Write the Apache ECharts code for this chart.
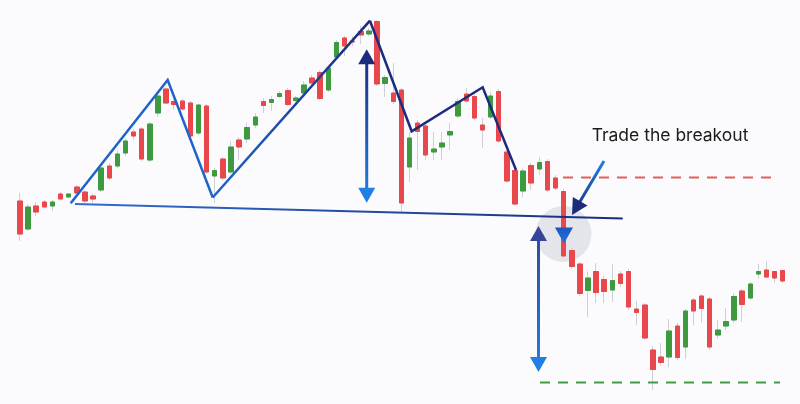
<!DOCTYPE html>
<html>
<head>
<meta charset="utf-8">
<script src="https://cdn.jsdelivr.net/npm/echarts@6/dist/echarts.min.js"></script>
<style>html,body{margin:0;padding:0;background:#fbfbfd;}#c{width:800px;height:404px;}</style>
</head>
<body>
<div id="c"></div>
<script>
// ---- Candle data (price units) ----
const opens  = [203,175,198,202,198,210,207,217,212,208,214,238,238,251,272,275,244,291,315,302.5,303,301,271,298,228,245,232,264,265,279,302.5,301.5,307.5,313.5,303.5,311,326,331.5,314,347,366,363,372.5,370,382.5,320.5,311,314,237,281,278,252,257,269,288,310,307.5,279,287,312.5,252,233.5,213,238.5,235,242.5,226,212.5,153.5,140,113.5,132.5,124.5,114,130,132.5,95,99,54,47,47,78,57,104,108,105,69,78,84,113,106,130,134,132.5,133.5];
const closes = [170,197,192,197,202,205,210,211,203,205,236,226,250,263,268,245,280,308,301,299.5,295,268,299,232,233.5,226,257,257,276.5,287,298.5,304.5,310.5,299.5,306,319,321,305.5,336,361.5,358,362,369,373,320,326.5,302.5,201,266,272.5,249,255,261,272.5,302.5,303,286,274,308,263,223,200,233,221,241.5,214,216,148,137.5,110.5,126,111.5,112.5,123.5,120.5,97,91.5,66,34.5,41.5,73,46.5,93,93,95.5,57,74,82.5,107.5,99.5,120,132.5,127,126,123];
const lows   = [163,173,188,195,193,203,206,210,201,201,212,224,236,248,264,243,242,287,300,294,293,266,269,230,201,224,230,244,261,276,291,293,306,298,302,309,316,304,312,345,348,358,360,368,318,307,300,192,222,234,244,244,244,254,286,301,284,256,285,261,221,198,207,214,229,212,214,146,135,108,87,101,101,102,117,94,79,64,14,38,37,44,45,79,81,54,65,74,81,82,104,125,126,121,121];
const highs  = [211,200,202,204,204,212,211,219,214,210,238,241,254,266,275,277,282,310,317,305,305,303,300,300,236,247,263,267,281,291,306,308,313,316,308,323,329,334,338,364,368,368,378,376,384,329,341,316,272,284,280,272,272,281,306,316,310,286,312,315,254,236,236,241,247,245,229,215,156,142,132,141,128,140,133,135,103,101,58,61,85,81,95,106,110,107,84,96,111,115,122,140,143,133,134];
const categories = opens.map((_, i) => 'D' + (i + 1));

// ---- Annotation anchors (x: candle index, y: price) ----
const leftShoulder = [[6.25, 200.7], [18.2, 324], [23.75, 206.5]];
const headRise     = [[23.75, 206.5], [43.13, 383.3]];
const rightSide    = [[43.13, 383.3], [48.27, 272.7], [57.02, 316.7], [61.13, 234]];
const neckline     = [[6.78, 200], [74.28, 185.5]];
const targetArrow1 = [42.73, 354.7, 201.3];   // x, top tip, bottom tip
const targetArrow2 = [63.9, 178, 32];
const breakCircle  = [66.98, 170];
const breakTriangle = [67.04, 160.5];
const breakoutArrow = [[71.97, 243], [68.03, 189]];
const resistanceLine = [[66.92, 226.5], [92.8, 226.5]];
const supportLine    = [[64.09, 21.5], [93.67, 21.5]];
const labelAnchor    = [70.45, 268.5];
const labelText      = 'Trade the breakout';

const UP = '#3d9a3f', DOWN = '#e8474b', WICK = '#cfcfd6';
const NAVY = '#1c2b7c', BLUE = '#2063c9', SKY = '#1f7fe3';

const chart = echarts.init(document.getElementById('c'));
const wickData = opens.map((o, i) => [o, closes[i], lows[i], highs[i]]);
const bodyData = opens.map((o, i) => [o, closes[i], Math.min(o, closes[i]), Math.max(o, closes[i])]);

chart.setOption({
  animation: false,
  backgroundColor: '#fbfbfd',
  grid: { left: 15.94, right: 13.2, top: 0, bottom: 0 },
  xAxis: [
    { type: 'category', data: categories, show: false, boundaryGap: true },
    { type: 'value', min: -0.5, max: 94.5, show: false, gridIndex: 0 }
  ],
  yAxis: { type: 'value', min: 0, max: 404, show: false, splitLine: { show: false } },
  series: [
    { type: 'candlestick', data: wickData, barWidth: 5, silent: true, z: 2,
      itemStyle: { color: WICK, color0: WICK, borderColor: WICK, borderColor0: WICK, borderWidth: 1 } },
    { type: 'candlestick', data: bodyData, barWidth: 5, silent: true, z: 3,
      itemStyle: { color: UP, color0: DOWN, borderColor: UP, borderColor0: DOWN, borderWidth: 1 } }
  ]
});

function P(pt) { return chart.convertToPixel({ xAxisIndex: 1, yAxisIndex: 0 }, pt); }
function head(tip, from, len, hw) {
  const dx = tip[0] - from[0], dy = tip[1] - from[1];
  const L = Math.hypot(dx, dy), ux = dx / L, uy = dy / L;
  const bx = tip[0] - ux * len, by = tip[1] - uy * len;
  return [[tip[0], tip[1]], [bx - uy * hw, by + ux * hw], [bx + uy * hw, by - ux * hw]];
}
function grad(a, b, c1, c2) {
  return new echarts.graphic.LinearGradient(a[0], a[1], b[0], b[1], [{ offset: 0, color: c1 }, { offset: 1, color: c2 }], true);
}
const els = [];
function pl(points, stroke, w, z, dash) {
  els.push({ type: 'polyline', silent: true, z: z || 50, shape: { points: points },
    style: { stroke: stroke, lineWidth: w, fill: null, lineDash: dash || null, lineJoin: 'miter' } });
}
function poly(points, fill, z) {
  els.push({ type: 'polygon', silent: true, z: z || 60, shape: { points: points }, style: { fill: fill } });
}

// circle behind candles
const cc = P(breakCircle);
els.push({ type: 'circle', silent: true, z: 0, zlevel: 0, shape: { cx: cc[0], cy: cc[1], r: 28 }, style: { fill: 'rgba(205,207,215,0.5)' } });

// head & shoulders outline
const ls = leftShoulder.map(P);
pl(ls, BLUE, 2.5);
const hr = headRise.map(P);
pl(hr, grad(hr[0], hr[1], BLUE, NAVY), 2.5);
pl(rightSide.map(P), NAVY, 2.5);
const nk = neckline.map(P);
pl(nk, grad(nk[0], nk[1], '#2f6fd0', NAVY), 2);

// target double arrows
function doubleArrow(a, topColor, botColor) {
  const t = P([a[0], a[1]]), b = P([a[0], a[2]]);
  const hl = 15, hw = 8.5;
  pl([[t[0], t[1] + hl - 1], [b[0], b[1] - hl + 1]], grad([t[0], t[1]], [b[0], b[1]], topColor, botColor), 3);
  poly(head(t, b, hl, hw), topColor);
  poly(head(b, t, hl, hw), botColor);
}
doubleArrow(targetArrow1, NAVY, SKY);
doubleArrow(targetArrow2, '#34459a', SKY);

// breakout triangle
const tt = P(breakTriangle);
poly([[tt[0], tt[1]], [tt[0] - 9, tt[1] - 16], [tt[0] + 9, tt[1] - 16]], grad([tt[0], tt[1] - 16], [tt[0], tt[1]], '#1f55c0', '#2174dc'));

// breakout pointer
const b0 = P(breakoutArrow[0]), b1 = P(breakoutArrow[1]);
const hb = head(b1, b0, 16, 8.5);
const L = Math.hypot(b1[0] - b0[0], b1[1] - b0[1]);
const sEnd = [b1[0] - (b1[0] - b0[0]) / L * 14, b1[1] - (b1[1] - b0[1]) / L * 14];
pl([b0, sEnd], grad(b0, b1, SKY, NAVY), 3);
poly(hb, NAVY);

// dashed levels
pl(resistanceLine.map(P), '#e35e5e', 2, 40, [10, 8]);
pl(supportLine.map(P), '#3f9c46', 2, 40, [10, 8]);

// label
const la = P(labelAnchor);
els.push({ type: 'text', silent: true, z: 70, x: la[0], y: la[1],
  style: { text: labelText, fill: '#1a1a1a', font: '400 17.5px Inter, "Noto Sans", sans-serif', textAlign: 'left', textVerticalAlign: 'middle' } });

chart.setOption({ graphic: { elements: els } });
</script>
</body>
</html>
